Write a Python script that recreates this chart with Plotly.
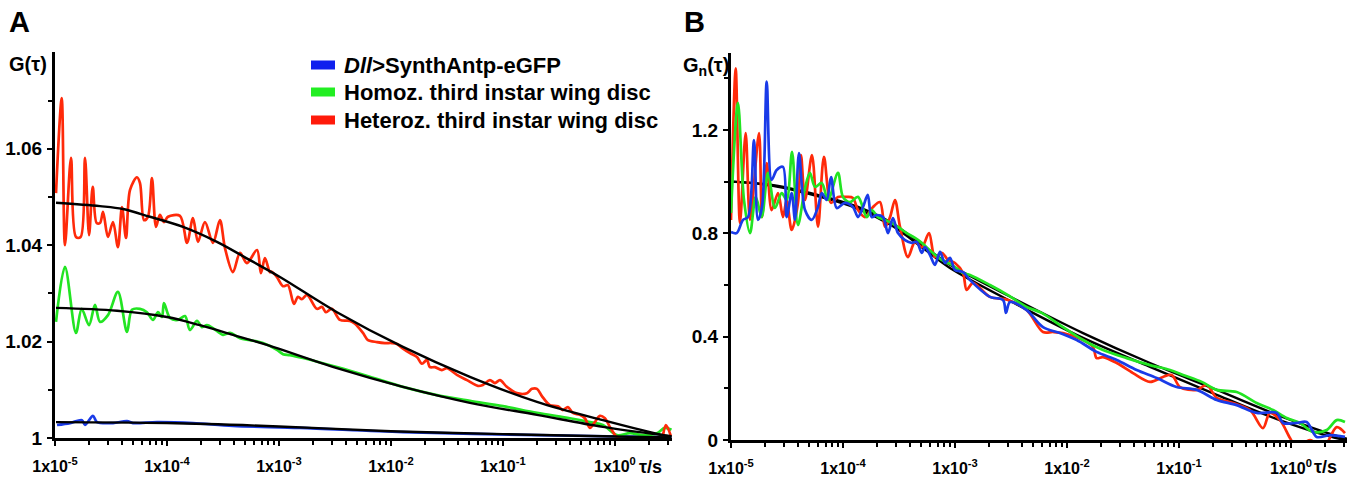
import numpy as np
import plotly.graph_objects as go

# ---------------- DATA (log10 tau [s], value) ----------------
# Panel A: G(tau)
red_A = [(-4.991,1.0508),(-4.940,1.0705),(-4.911,1.0400),(-4.857,1.0581),(-4.813,1.0417),(-4.771,1.0417),
         (-4.732,1.0581),(-4.696,1.0421),(-4.663,1.0521),(-4.628,1.0446),(-4.598,1.0446),(-4.571,1.0469),
         (-4.527,1.0417),(-4.482,1.0448),(-4.438,1.0396),(-4.402,1.0479),(-4.366,1.0415),(-4.330,1.0515),
         (-4.268,1.0541),(-4.241,1.0529),(-4.205,1.0452),(-4.170,1.0459),(-4.134,1.0539),(-4.098,1.0438),
         (-4.063,1.0463),(-4.027,1.0448),(-3.991,1.0459),(-3.884,1.0461),(-3.821,1.0405),(-3.768,1.0456),
         (-3.723,1.0407),(-3.661,1.0448),(-3.589,1.0405),(-3.527,1.0452),(-3.482,1.0394),(-3.411,1.0344),
         (-3.348,1.0384),(-3.286,1.0363),(-3.196,1.0390),(-3.161,1.0342),(-3.125,1.0373),(-3.080,1.0344),
         (-3.065,1.0345),(-3.021,1.0335),(-2.964,1.0315),(-2.920,1.0317),(-2.866,1.0278),(-2.830,1.0293),
         (-2.795,1.0288),(-2.750,1.0297),(-2.661,1.0268),(-2.616,1.0272),(-2.580,1.0261),(-2.527,1.0268),
         (-2.455,1.0245),(-2.366,1.0243),(-2.321,1.0237),(-2.250,1.0218),(-2.205,1.0203),(-2.125,1.0199),
         (-2.054,1.0197),(-1.991,1.0197),(-1.946,1.0195),(-1.902,1.0187),(-1.830,1.0176),(-1.768,1.0168),
         (-1.723,1.0154),(-1.679,1.0162),(-1.652,1.0147),(-1.607,1.0147),(-1.545,1.0141),(-1.500,1.0145),
         (-1.411,1.0131),(-1.321,1.0120),(-1.223,1.0108),(-1.179,1.0110),(-1.116,1.0120),(-1.071,1.0114),
         (-1.027,1.0120),(-0.964,1.0106),(-0.875,1.0093),(-0.786,1.0093),(-0.741,1.0102),(-0.696,1.0102),
         (-0.652,1.0087),(-0.580,1.0068),(-0.509,1.0066),(-0.464,1.0058),(-0.420,1.0064),(-0.375,1.0052),
         (-0.313,1.0048),(-0.268,1.0041),(-0.223,1.0021),(-0.179,1.0033),(-0.134,1.0046),(-0.089,1.0041),
         (-0.045,1.0023),(0.018,1.0002),(0.116,0.9992),(0.196,0.9981),(0.268,0.9985),(0.330,0.9977),
         (0.402,0.9985),(0.455,1.0027),(0.500,1.0004)]

green_A = [(-4.991,1.0241),(-4.911,1.0355),(-4.813,1.0218),(-4.762,1.0268),(-4.696,1.0234),(-4.643,1.0276),
           (-4.598,1.0241),(-4.527,1.0255),(-4.438,1.0303),(-4.357,1.0220),(-4.313,1.0266),(-4.241,1.0268),
           (-4.179,1.0261),(-4.125,1.0245),(-4.080,1.0261),(-4.045,1.0251),(-4.027,1.0280),(-3.973,1.0249),
           (-3.902,1.0245),(-3.839,1.0253),(-3.795,1.0224),(-3.732,1.0243),(-3.688,1.0230),(-3.643,1.0234),
           (-3.589,1.0228),(-3.500,1.0214),(-3.438,1.0218),(-3.348,1.0207),(-3.259,1.0203),(-3.143,1.0197),
           (-3.018,1.0183),(-2.964,1.0174),(-2.902,1.0172),(-2.786,1.0166),(-2.482,1.0147),(-2.188,1.0127),
           (-1.893,1.0106),(-1.589,1.0089),(-1.295,1.0077),(-1.000,1.0066),(-0.696,1.0052),(-0.402,1.0041),
           (-0.223,1.0033),(-0.107,1.0027),(0.018,1.0006),(0.134,1.0010),(0.250,1.0006),(0.375,1.0010),
           (0.446,1.0021),(0.505,1.0017)]

blue_A = [(-4.982,1.0027),(-4.866,1.0031),(-4.759,1.0037),(-4.732,1.0027),(-4.661,1.0046),(-4.625,1.0033),
          (-4.482,1.0031),(-4.357,1.0035),(-4.304,1.0031),(-4.089,1.0033),(-3.768,1.0031),(-3.411,1.0025),
          (-2.813,1.0021),(-1.893,1.0012),(-0.696,1.0006),(0.429,1.0002),(0.505,1.0002)]

fit_red_A = [(-4.991,1.0488),(-4.598,1.0481),(-4.393,1.0475),(-4.152,1.0459),(-3.857,1.0438),(-3.554,1.0407),
             (-3.259,1.0369),(-2.991,1.0334),(-2.482,1.0261),(-1.893,1.0189),(-1.295,1.0127),(-0.696,1.0075),
             (-0.107,1.0037),(0.429,1.0006),(0.505,1.0003)]
fit_green_A = [(-4.991,1.0270),(-4.446,1.0264),(-4.000,1.0251),(-3.705,1.0234),(-3.411,1.0214),(-3.107,1.0193),
               (-2.482,1.0145),(-1.893,1.0106),(-1.295,1.0073),(-0.696,1.0048),(-0.107,1.0023),(0.429,1.0006),
               (0.505,1.0004)]
fit_blue_A = [(-4.991,1.0033),(-4.000,1.0031),(-3.000,1.0024),(-2.000,1.0014),(-1.000,1.0008),(0.000,1.0003),
              (0.505,1.0001)]

# Panel B: normalised Gn(tau)
red_B = [(-5.000,0.852),(-4.958,1.439),(-4.920,0.840),(-4.869,1.188),(-4.830,0.852),(-4.750,1.188),(-4.723,0.863),
         (-4.681,1.072),(-4.637,0.890),(-4.580,0.956),(-4.536,0.863),(-4.503,0.929),(-4.458,0.813),(-4.402,0.918),
         (-4.375,1.103),(-4.339,0.929),(-4.277,1.103),(-4.223,0.825),(-4.170,1.096),(-4.107,0.918),(-4.045,0.941),
         (-3.967,0.941),(-3.911,0.937),(-3.866,0.890),(-3.804,0.863),(-3.732,0.902),(-3.670,0.921),(-3.625,0.825),
         (-3.580,0.863),(-3.536,0.929),(-3.491,0.825),(-3.420,0.708),(-3.357,0.767),(-3.295,0.747),(-3.232,0.801),
         (-3.179,0.708),(-3.116,0.724),(-3.063,0.697),(-3.000,0.685),(-2.929,0.647),(-2.896,0.581),(-2.839,0.608),
         (-2.688,0.554),(-2.527,0.542),(-2.360,0.503),(-2.214,0.418),(-2.125,0.418),(-2.036,0.414),(-1.857,0.387),
         (-1.768,0.360),(-1.735,0.317),(-1.679,0.321),(-1.556,0.298),(-1.411,0.259),(-1.259,0.225),(-1.143,0.244),
         (-1.065,0.252),(-0.991,0.205),(-0.842,0.194),(-0.753,0.213),(-0.663,0.163),(-0.518,0.143),(-0.366,0.116),
         (-0.250,0.046),(-0.188,0.105),(-0.098,0.077),(-0.009,0.008),(0.051,-0.030),(0.170,0.000),(0.286,-0.030),
         (0.408,0.050),(0.482,0.027)]

green_B = [(-5.000,0.879),(-4.938,1.305),(-4.884,0.929),(-4.830,0.801),(-4.779,0.941),(-4.726,0.863),(-4.670,1.034),
           (-4.607,0.898),(-4.547,0.956),(-4.503,0.929),(-4.455,1.115),(-4.402,0.832),(-4.339,0.976),(-4.295,1.034),
           (-4.250,0.980),(-4.190,0.995),(-4.134,0.929),(-4.045,1.034),(-4.000,0.941),(-3.938,0.921),(-3.866,0.941),
           (-3.788,0.863),(-3.744,0.890),(-3.688,0.863),(-3.625,0.852),(-3.565,0.840),(-3.509,0.825),(-3.431,0.801),
           (-3.357,0.782),(-3.297,0.763),(-3.208,0.728),(-3.119,0.697),(-3.029,0.678),(-2.929,0.647),(-2.866,0.639),
           (-2.688,0.600),(-2.527,0.561),(-2.360,0.515),(-2.226,0.492),(-2.063,0.445),(-1.857,0.387),(-1.679,0.348),
           (-1.467,0.317),(-1.259,0.290),(-1.080,0.271),(-0.964,0.252),(-0.797,0.225),(-0.663,0.194),(-0.485,0.186),
           (-0.306,0.143),(-0.161,0.116),(-0.038,0.085),(0.080,0.066),(0.196,0.031),(0.319,0.039),(0.408,0.077),
           (0.482,0.070)]

blue_B = [(-5.000,0.805),(-4.949,0.801),(-4.893,0.852),(-4.848,0.863),(-4.795,1.161),(-4.759,0.852),(-4.723,0.902),
          (-4.681,1.387),(-4.637,1.007),(-4.592,1.045),(-4.536,1.057),(-4.503,0.863),(-4.458,0.956),(-4.429,0.852),
          (-4.393,1.111),(-4.339,0.890),(-4.279,0.852),(-4.223,0.902),(-4.190,0.956),(-4.146,0.929),(-4.107,1.018),
          (-4.056,0.898),(-3.982,0.918),(-3.911,0.902),(-3.866,0.863),(-3.821,0.902),(-3.779,0.949),(-3.744,0.863),
          (-3.699,0.871),(-3.643,0.863),(-3.598,0.801),(-3.554,0.859),(-3.509,0.801),(-3.446,0.774),(-3.387,0.763),
          (-3.342,0.767),(-3.297,0.724),(-3.268,0.747),(-3.223,0.716),(-3.179,0.678),(-3.134,0.728),(-3.089,0.685),
          (-3.045,0.705),(-3.000,0.658),(-2.929,0.650),(-2.866,0.619),(-2.688,0.554),(-2.571,0.542),(-2.545,0.492),
          (-2.509,0.534),(-2.360,0.503),(-2.214,0.437),(-2.063,0.414),(-1.913,0.387),(-1.735,0.341),(-1.556,0.310),
          (-1.378,0.271),(-1.199,0.240),(-1.021,0.205),(-0.842,0.194),(-0.663,0.155),(-0.485,0.135),(-0.306,0.105),
          (-0.128,0.105),(-0.071,0.066),(0.051,0.066),(0.140,0.070),(0.229,0.012),(0.348,0.019),(0.482,0.012)]

fit_upper_B = [(-5.000,1.000),(-4.637,0.987),(-4.161,0.941),(-3.866,0.902),(-3.565,0.840),(-3.268,0.747),
               (-3.045,0.678),(-2.449,0.542),(-1.857,0.414),(-1.259,0.298),(-0.663,0.194),(-0.071,0.089),
               (0.438,0.012),(0.500,0.005)]
fit_lower_B = [(-5.000,1.000),(-4.637,0.985),(-4.161,0.936),(-3.866,0.895),(-3.565,0.830),(-3.268,0.737),
               (-3.045,0.666),(-2.449,0.525),(-1.857,0.395),(-1.259,0.283),(-0.663,0.175),(-0.071,0.072),
               (0.438,0.004),(0.500,0.000)]

x_ticks_exp = [-5, -4, -3, -2, -1, 0]
y_ticks_A = [1.0, 1.02, 1.04, 1.06]
y_ticks_A_text = ["1", "1.02", "1.04", "1.06"]
y_ticks_B = [0.0, 0.4, 0.8, 1.2]
y_ticks_B_text = ["0", "0.4", "0.8", "1.2"]
legend_labels = ["<i>Dll</i>&gt;SynthAntp-eGFP", "Homoz. third instar wing disc", "Heteroz. third instar wing disc"]

# ---------------- STYLE ----------------
W, H = 1357, 483
FONT = "Liberation Sans, Arial, sans-serif"
RED = "#ff2a0a"
GREEN = "#22e422"
BLUE = "#1a3be8"


def unzip(pairs):
    a = np.array(pairs, dtype=float)
    return 10 ** a[:, 0], a[:, 1]


fig = go.Figure()


def add(pairs, color, xa, ya, width=2.7, smooth=0.9):
    x, y = unzip(pairs)
    fig.add_trace(go.Scatter(x=x, y=y, mode="lines", xaxis=xa, yaxis=ya,
                             line=dict(color=color, width=width, shape="spline", smoothing=smooth),
                             showlegend=False, hoverinfo="skip"))


# Panel A: data then fits
add(blue_A, BLUE, "x", "y")
add(green_A, GREEN, "x", "y")
add(red_A, RED, "x", "y")
add(fit_blue_A, "black", "x", "y", width=2.4, smooth=1.0)
add(fit_green_A, "black", "x", "y", width=2.4, smooth=1.0)
add(fit_red_A, "black", "x", "y", width=2.4, smooth=1.0)

# Panel B: fits then data
add(fit_upper_B, "black", "x2", "y2", width=2.4, smooth=1.0)
add(fit_lower_B, "black", "x2", "y2", width=2.4, smooth=1.0)
add(red_B, RED, "x2", "y2")
add(green_B, GREEN, "x2", "y2")
add(blue_B, BLUE, "x2", "y2")

tickvals = [10.0 ** e for e in x_ticks_exp]
ticktext = ["<b>1x10<sup>%d</sup></b>" % e for e in x_ticks_exp]
minor_vals = [m * 10.0 ** e for e in range(-5, 1) for m in range(2, 10) if m * 10.0 ** e < 3.2]

xcommon = dict(type="log", showline=True, linewidth=3, linecolor="black", mirror=False,
               ticks="outside", ticklen=5, tickwidth=2, tickcolor="black",
               tickmode="array", tickvals=tickvals, ticktext=ticktext,
               tickfont=dict(family=FONT, size=16, color="black"),
               ticklabelstandoff=7, automargin=False,
               minor=dict(ticks="outside", ticklen=4, tickwidth=1.6, tickcolor="black",
                          tickmode="array", tickvals=minor_vals, showgrid=False),
               showgrid=False, zeroline=False)

ycommon = dict(showline=True, linewidth=3, linecolor="black", ticks="outside", ticklen=5, tickwidth=2,
               tickcolor="black", tickmode="array", automargin=False,
               tickfont=dict(family=FONT, size=19, color="black", weight="bold"),
               ticklabelstandoff=1, showgrid=False, zeroline=False)

fig.update_layout(
    width=W, height=H, margin=dict(l=0, r=0, t=0, b=0, autoexpand=False),
    paper_bgcolor="white", plot_bgcolor="white",
    xaxis=dict(xcommon, domain=[55 / W, 672 / W], range=[-5, 0.51], anchor="y"),
    yaxis=dict(ycommon, domain=[1 - 438 / H, 1 - 52.4 / H], range=[1.0, 1.08], anchor="x",
               tickvals=y_ticks_A, ticktext=y_ticks_A_text,
               minor=dict(ticks="outside", ticklen=4, tickwidth=1.6, tickcolor="black",
                          tickmode="array", tickvals=[1.01, 1.03, 1.05, 1.07], showgrid=False)),
    xaxis2=dict(xcommon, domain=[731 / W, 1347 / W], range=[-5, 0.5], anchor="y2"),
    yaxis2=dict(ycommon, domain=[1 - 440 / H, 1 - 52.5 / H], range=[0, 1.5], anchor="x2",
                tickvals=y_ticks_B, ticktext=y_ticks_B_text,
                minor=dict(ticks="outside", ticklen=4, tickwidth=1.6, tickcolor="black",
                           tickmode="array", tickvals=[0.2, 0.6, 1.0, 1.4], showgrid=False)),
)


def ann(text, x, y, size, xanchor="left", yanchor="middle"):
    fig.add_annotation(text=text, x=x / W, y=1 - y / H, xref="paper", yref="paper",
                       showarrow=False, xanchor=xanchor, yanchor=yanchor,
                       font=dict(family=FONT, size=size, color="black", weight="bold"))


ann("A", 7, 22, 29)
ann("B", 682, 22, 29)
ann("G(τ)", 7, 64, 20)
ann("G<sub>n</sub>(τ)", 681, 67, 20)
ann("τ/s", 637, 467, 18)
ann("τ/s", 1312, 467, 18)

leg_colors = ["#1020ee", "#22ee22", "#ff1a0a"]
leg_y = [65, 92, 120]
for lab, col, yy in zip(legend_labels, leg_colors, leg_y):
    fig.add_shape(type="rect", xref="paper", yref="paper",
                  x0=311 / W, x1=335 / W, y0=1 - (yy + 4.5) / H, y1=1 - (yy - 4.5) / H,
                  fillcolor=col, line=dict(width=0))
    ann(lab, 342, yy, 22)

fig.write_html("out.html", config={"displayModeBar": False},
               post_script="document.body.style.margin='0';document.body.style.padding='0';"
                           "document.body.style.overflow='hidden';")
